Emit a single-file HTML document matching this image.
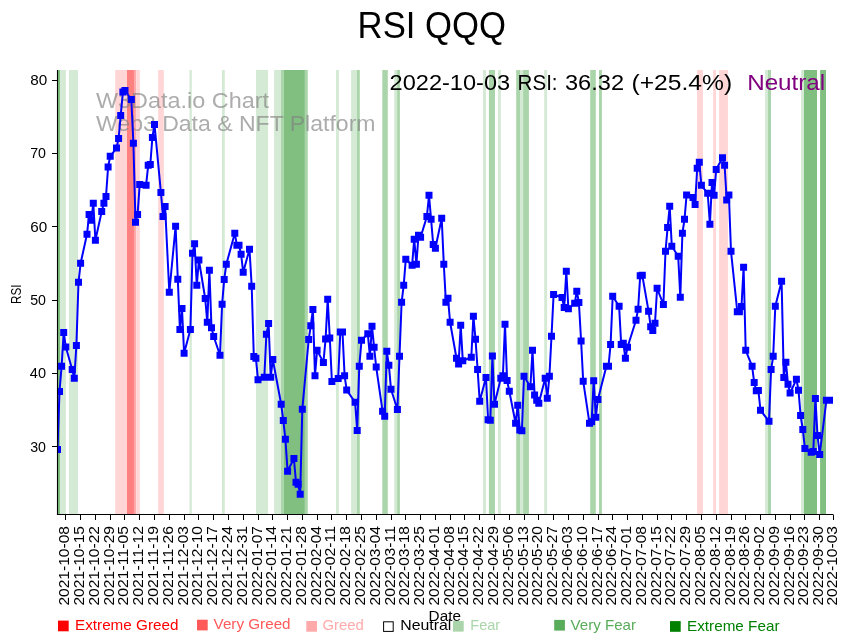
<!DOCTYPE html><html><head><meta charset="utf-8"><title>RSI QQQ</title><style>html,body{margin:0;padding:0;background:#fff}body{width:852px;height:642px;overflow:hidden;position:relative}svg{position:absolute;left:0;top:0;will-change:transform}text{font-family:"Liberation Sans",sans-serif}</style></head><body>
<svg width="852" height="642" viewBox="0 0 852 642">
<rect x="0" y="0" width="852" height="642" fill="#fff"/>
<defs><clipPath id="c"><rect x="57.5" y="69.9" width="775.5" height="444.6"/></clipPath></defs>
<g clip-path="url(#c)">
<rect x="57.5" y="69.9" width="2.5" height="444.6" fill="#80bf80"/>
<rect x="60.0" y="69.9" width="5.9" height="444.6" fill="#d5ead5"/>
<rect x="69.0" y="69.9" width="9.0" height="444.6" fill="#d5ead5"/>
<rect x="115.2" y="69.9" width="11.8" height="444.6" fill="#ffd5d5"/>
<rect x="127.0" y="69.9" width="7.0" height="444.6" fill="#ff8080"/>
<rect x="134.0" y="69.9" width="2.2" height="444.6" fill="#ffaaaa"/>
<rect x="136.2" y="69.9" width="3.6" height="444.6" fill="#ffd5d5"/>
<rect x="158.2" y="69.9" width="5.6" height="444.6" fill="#ffd5d5"/>
<rect x="189.5" y="69.9" width="2.3" height="444.6" fill="#d5ead5"/>
<rect x="222.0" y="69.9" width="2.8" height="444.6" fill="#d5ead5"/>
<rect x="256.0" y="69.9" width="12.0" height="444.6" fill="#d5ead5"/>
<rect x="274.1" y="69.9" width="6.9" height="444.6" fill="#d5ead5"/>
<rect x="281.0" y="69.9" width="2.9" height="444.6" fill="#aad5aa"/>
<rect x="283.9" y="69.9" width="21.0" height="444.6" fill="#80bf80"/>
<rect x="304.9" y="69.9" width="2.9" height="444.6" fill="#aad5aa"/>
<rect x="336.0" y="69.9" width="2.9" height="444.6" fill="#d5ead5"/>
<rect x="351.1" y="69.9" width="5.8" height="444.6" fill="#d5ead5"/>
<rect x="356.9" y="69.9" width="2.9" height="444.6" fill="#aad5aa"/>
<rect x="382.3" y="69.9" width="5.5" height="444.6" fill="#aad5aa"/>
<rect x="394.2" y="69.9" width="2.9" height="444.6" fill="#d5ead5"/>
<rect x="397.1" y="69.9" width="2.8" height="444.6" fill="#aad5aa"/>
<rect x="483.0" y="69.9" width="3.0" height="444.6" fill="#d5ead5"/>
<rect x="488.9" y="69.9" width="6.1" height="444.6" fill="#aad5aa"/>
<rect x="498.0" y="69.9" width="2.9" height="444.6" fill="#d5ead5"/>
<rect x="516.2" y="69.9" width="3.8" height="444.6" fill="#aad5aa"/>
<rect x="520.0" y="69.9" width="3.1" height="444.6" fill="#d5ead5"/>
<rect x="523.1" y="69.9" width="5.8" height="444.6" fill="#aad5aa"/>
<rect x="544.2" y="69.9" width="2.9" height="444.6" fill="#d5ead5"/>
<rect x="590.2" y="69.9" width="5.6" height="444.6" fill="#aad5aa"/>
<rect x="599.0" y="69.9" width="2.9" height="444.6" fill="#aad5aa"/>
<rect x="697.1" y="69.9" width="5.8" height="444.6" fill="#ffd5d5"/>
<rect x="713.2" y="69.9" width="2.7" height="444.6" fill="#ffd5d5"/>
<rect x="719.1" y="69.9" width="8.8" height="444.6" fill="#ffd5d5"/>
<rect x="765.1" y="69.9" width="2.9" height="444.6" fill="#d5ead5"/>
<rect x="768.0" y="69.9" width="3.0" height="444.6" fill="#aad5aa"/>
<rect x="801.1" y="69.9" width="2.9" height="444.6" fill="#d5ead5"/>
<rect x="804.0" y="69.9" width="13.0" height="444.6" fill="#80bf80"/>
<rect x="820.1" y="69.9" width="5.9" height="444.6" fill="#80bf80"/>
<g fill="#808080" fill-opacity="0.65" font-size="22.3px"><text x="96" y="107.6" textLength="173" lengthAdjust="spacingAndGlyphs">W3Data.io Chart</text><text x="96" y="130.5" textLength="279.5" lengthAdjust="spacingAndGlyphs">Web3 Data &amp; NFT Platform</text></g>
<polyline points="57.5,449.5 59.5,391.5 61.6,366.3 63.7,332.4 65.8,346.9 72.2,369.4 74.3,378.3 76.4,345.4 78.5,282.3 80.6,263.3 87.0,234.3 89.1,214.5 91.2,220.3 93.3,203.3 95.4,240.3 101.7,211.5 103.9,203.3 106.0,196.5 108.1,167.0 110.2,156.3 116.5,148.1 118.6,138.5 120.7,115.4 122.9,92.1 125.0,90.5 131.3,99.5 133.4,143.3 135.5,222.3 137.6,214.4 139.7,184.4 146.1,185.2 148.2,165.3 150.3,164.5 152.4,137.5 154.5,124.4 160.9,192.4 163.0,216.4 165.1,206.4 169.3,292.3 175.6,226.3 177.8,279.3 179.9,329.5 182.0,308.5 184.1,353.3 190.4,329.5 192.5,253.3 194.6,243.7 196.8,285.3 198.9,260.0 205.2,298.5 207.3,322.3 209.4,270.3 211.5,327.7 213.7,336.5 220.0,355.3 222.1,304.3 224.2,279.5 226.3,264.3 234.8,233.3 236.9,245.3 239.0,245.3 241.1,254.3 243.2,272.3 249.5,249.3 251.7,286.2 253.8,356.5 255.9,358.2 258.0,379.8 264.3,377.3 266.4,334.3 268.6,323.5 270.7,377.3 272.8,359.5 281.2,404.3 283.3,420.5 285.4,439.3 287.6,471.3 293.9,458.5 296.0,482.3 298.1,484.3 300.2,494.3 302.3,409.3 308.7,339.5 310.8,325.7 312.9,309.5 315.0,375.7 317.1,350.3 323.4,362.4 325.6,339.0 327.7,299.3 329.8,338.0 331.9,381.4 338.2,378.4 340.3,332.1 342.5,332.1 344.6,375.8 346.7,390.1 355.1,402.2 357.2,430.5 359.3,366.2 361.5,340.3 367.8,333.7 369.9,356.2 372.0,326.3 374.1,347.3 376.2,367.0 382.6,411.3 384.7,416.3 386.8,351.3 388.9,365.3 391.0,389.3 397.4,409.5 399.5,356.3 401.6,302.3 403.7,285.3 405.8,259.2 412.1,265.3 414.2,239.2 416.4,264.2 418.5,235.3 420.6,237.3 426.9,216.5 429.0,195.3 431.1,219.3 433.2,244.5 435.4,248.3 441.7,218.3 443.8,264.3 445.9,302.3 448.0,298.2 450.1,322.3 456.5,358.2 458.6,364.0 460.7,325.2 462.8,360.7 471.3,357.3 473.4,316.3 475.5,339.2 477.6,369.4 479.7,401.3 486.0,377.5 488.1,419.7 490.3,420.3 492.4,356.0 494.5,404.2 500.8,378.3 502.9,375.8 505.0,324.2 507.1,380.5 509.3,391.3 515.6,423.3 517.7,405.3 519.8,430.0 521.9,430.8 524.0,376.2 530.4,386.7 532.5,350.3 534.6,395.0 536.7,400.3 538.8,403.3 545.2,378.3 547.3,398.3 549.4,376.3 551.5,336.3 553.6,294.5 562.0,297.5 564.2,307.5 566.3,271.2 568.4,308.7 574.7,303.3 576.8,291.2 578.9,302.5 581.1,341.0 583.2,381.2 589.5,423.3 591.6,421.7 593.7,380.8 595.8,417.2 597.9,399.5 606.4,366.2 608.5,366.2 610.6,344.4 612.7,296.2 619.1,306.3 621.2,344.5 623.3,343.3 625.4,358.3 627.5,347.2 636.0,320.3 638.1,309.2 640.2,275.8 642.3,275.3 648.6,311.3 650.7,326.7 652.8,330.5 655.0,323.3 657.1,288.3 663.4,304.5 665.5,251.3 667.6,227.5 669.7,206.3 671.8,246.2 678.2,256.2 680.3,297.3 682.4,233.3 684.5,219.3 686.6,195.0 693.0,197.5 695.1,204.5 697.2,168.3 699.3,162.2 701.4,185.3 707.7,193.3 709.9,224.2 712.0,182.5 714.1,195.3 716.2,169.5 722.5,157.8 724.6,165.3 726.7,200.0 728.9,195.0 731.0,251.3 737.3,311.7 739.4,311.7 741.5,306.5 743.6,267.2 745.7,350.3 752.1,366.2 754.2,382.5 756.3,390.8 758.4,390.5 760.5,410.3 769.0,421.3 771.1,369.5 773.2,356.3 775.3,306.3 781.6,281.3 783.8,377.5 785.9,362.2 788.0,384.2 790.1,393.0 796.4,379.3 798.5,390.3 800.6,415.5 802.8,429.5 804.9,448.4 811.2,452.2 813.3,451.5 815.4,398.4 817.5,435.4 819.7,454.5 826.4,400.3 833.0,400.3" fill="none" stroke="#0000ff" stroke-width="2" stroke-linejoin="round" stroke-linecap="butt"/>
<path d="M54.0 446.0h7.0v7.0h-7.0zM56.0 388.0h7.0v7.0h-7.0zM58.1 362.8h7.0v7.0h-7.0zM60.2 328.9h7.0v7.0h-7.0zM62.3 343.4h7.0v7.0h-7.0zM68.7 365.9h7.0v7.0h-7.0zM70.8 374.8h7.0v7.0h-7.0zM72.9 341.9h7.0v7.0h-7.0zM75.0 278.8h7.0v7.0h-7.0zM77.1 259.8h7.0v7.0h-7.0zM83.5 230.8h7.0v7.0h-7.0zM85.6 211.0h7.0v7.0h-7.0zM87.7 216.8h7.0v7.0h-7.0zM89.8 199.8h7.0v7.0h-7.0zM91.9 236.8h7.0v7.0h-7.0zM98.2 208.0h7.0v7.0h-7.0zM100.4 199.8h7.0v7.0h-7.0zM102.5 193.0h7.0v7.0h-7.0zM104.6 163.5h7.0v7.0h-7.0zM106.7 152.8h7.0v7.0h-7.0zM113.0 144.6h7.0v7.0h-7.0zM115.1 135.0h7.0v7.0h-7.0zM117.2 111.9h7.0v7.0h-7.0zM119.4 88.6h7.0v7.0h-7.0zM121.5 87.0h7.0v7.0h-7.0zM127.8 96.0h7.0v7.0h-7.0zM129.9 139.8h7.0v7.0h-7.0zM132.0 218.8h7.0v7.0h-7.0zM134.1 210.9h7.0v7.0h-7.0zM136.2 180.9h7.0v7.0h-7.0zM142.6 181.7h7.0v7.0h-7.0zM144.7 161.8h7.0v7.0h-7.0zM146.8 161.0h7.0v7.0h-7.0zM148.9 134.0h7.0v7.0h-7.0zM151.0 120.9h7.0v7.0h-7.0zM157.4 188.9h7.0v7.0h-7.0zM159.5 212.9h7.0v7.0h-7.0zM161.6 202.9h7.0v7.0h-7.0zM165.8 288.8h7.0v7.0h-7.0zM172.1 222.8h7.0v7.0h-7.0zM174.3 275.8h7.0v7.0h-7.0zM176.4 326.0h7.0v7.0h-7.0zM178.5 305.0h7.0v7.0h-7.0zM180.6 349.8h7.0v7.0h-7.0zM186.9 326.0h7.0v7.0h-7.0zM189.0 249.8h7.0v7.0h-7.0zM191.1 240.2h7.0v7.0h-7.0zM193.3 281.8h7.0v7.0h-7.0zM195.4 256.5h7.0v7.0h-7.0zM201.7 295.0h7.0v7.0h-7.0zM203.8 318.8h7.0v7.0h-7.0zM205.9 266.8h7.0v7.0h-7.0zM208.0 324.2h7.0v7.0h-7.0zM210.2 333.0h7.0v7.0h-7.0zM216.5 351.8h7.0v7.0h-7.0zM218.6 300.8h7.0v7.0h-7.0zM220.7 276.0h7.0v7.0h-7.0zM222.8 260.8h7.0v7.0h-7.0zM231.3 229.8h7.0v7.0h-7.0zM233.4 241.8h7.0v7.0h-7.0zM235.5 241.8h7.0v7.0h-7.0zM237.6 250.8h7.0v7.0h-7.0zM239.7 268.8h7.0v7.0h-7.0zM246.0 245.8h7.0v7.0h-7.0zM248.2 282.7h7.0v7.0h-7.0zM250.3 353.0h7.0v7.0h-7.0zM252.4 354.7h7.0v7.0h-7.0zM254.5 376.3h7.0v7.0h-7.0zM260.8 373.8h7.0v7.0h-7.0zM262.9 330.8h7.0v7.0h-7.0zM265.1 320.0h7.0v7.0h-7.0zM267.2 373.8h7.0v7.0h-7.0zM269.3 356.0h7.0v7.0h-7.0zM277.7 400.8h7.0v7.0h-7.0zM279.8 417.0h7.0v7.0h-7.0zM281.9 435.8h7.0v7.0h-7.0zM284.1 467.8h7.0v7.0h-7.0zM290.4 455.0h7.0v7.0h-7.0zM292.5 478.8h7.0v7.0h-7.0zM294.6 480.8h7.0v7.0h-7.0zM296.7 490.8h7.0v7.0h-7.0zM298.8 405.8h7.0v7.0h-7.0zM305.2 336.0h7.0v7.0h-7.0zM307.3 322.2h7.0v7.0h-7.0zM309.4 306.0h7.0v7.0h-7.0zM311.5 372.2h7.0v7.0h-7.0zM313.6 346.8h7.0v7.0h-7.0zM319.9 358.9h7.0v7.0h-7.0zM322.1 335.5h7.0v7.0h-7.0zM324.2 295.8h7.0v7.0h-7.0zM326.3 334.5h7.0v7.0h-7.0zM328.4 377.9h7.0v7.0h-7.0zM334.7 374.9h7.0v7.0h-7.0zM336.8 328.6h7.0v7.0h-7.0zM339.0 328.6h7.0v7.0h-7.0zM341.1 372.3h7.0v7.0h-7.0zM343.2 386.6h7.0v7.0h-7.0zM351.6 398.7h7.0v7.0h-7.0zM353.7 427.0h7.0v7.0h-7.0zM355.8 362.7h7.0v7.0h-7.0zM358.0 336.8h7.0v7.0h-7.0zM364.3 330.2h7.0v7.0h-7.0zM366.4 352.7h7.0v7.0h-7.0zM368.5 322.8h7.0v7.0h-7.0zM370.6 343.8h7.0v7.0h-7.0zM372.7 363.5h7.0v7.0h-7.0zM379.1 407.8h7.0v7.0h-7.0zM381.2 412.8h7.0v7.0h-7.0zM383.3 347.8h7.0v7.0h-7.0zM385.4 361.8h7.0v7.0h-7.0zM387.5 385.8h7.0v7.0h-7.0zM393.9 406.0h7.0v7.0h-7.0zM396.0 352.8h7.0v7.0h-7.0zM398.1 298.8h7.0v7.0h-7.0zM400.2 281.8h7.0v7.0h-7.0zM402.3 255.7h7.0v7.0h-7.0zM408.6 261.8h7.0v7.0h-7.0zM410.7 235.7h7.0v7.0h-7.0zM412.9 260.7h7.0v7.0h-7.0zM415.0 231.8h7.0v7.0h-7.0zM417.1 233.8h7.0v7.0h-7.0zM423.4 213.0h7.0v7.0h-7.0zM425.5 191.8h7.0v7.0h-7.0zM427.6 215.8h7.0v7.0h-7.0zM429.7 241.0h7.0v7.0h-7.0zM431.9 244.8h7.0v7.0h-7.0zM438.2 214.8h7.0v7.0h-7.0zM440.3 260.8h7.0v7.0h-7.0zM442.4 298.8h7.0v7.0h-7.0zM444.5 294.7h7.0v7.0h-7.0zM446.6 318.8h7.0v7.0h-7.0zM453.0 354.7h7.0v7.0h-7.0zM455.1 360.5h7.0v7.0h-7.0zM457.2 321.7h7.0v7.0h-7.0zM459.3 357.2h7.0v7.0h-7.0zM467.8 353.8h7.0v7.0h-7.0zM469.9 312.8h7.0v7.0h-7.0zM472.0 335.7h7.0v7.0h-7.0zM474.1 365.9h7.0v7.0h-7.0zM476.2 397.8h7.0v7.0h-7.0zM482.5 374.0h7.0v7.0h-7.0zM484.6 416.2h7.0v7.0h-7.0zM486.8 416.8h7.0v7.0h-7.0zM488.9 352.5h7.0v7.0h-7.0zM491.0 400.7h7.0v7.0h-7.0zM497.3 374.8h7.0v7.0h-7.0zM499.4 372.3h7.0v7.0h-7.0zM501.5 320.7h7.0v7.0h-7.0zM503.6 377.0h7.0v7.0h-7.0zM505.8 387.8h7.0v7.0h-7.0zM512.1 419.8h7.0v7.0h-7.0zM514.2 401.8h7.0v7.0h-7.0zM516.3 426.5h7.0v7.0h-7.0zM518.4 427.3h7.0v7.0h-7.0zM520.5 372.7h7.0v7.0h-7.0zM526.9 383.2h7.0v7.0h-7.0zM529.0 346.8h7.0v7.0h-7.0zM531.1 391.5h7.0v7.0h-7.0zM533.2 396.8h7.0v7.0h-7.0zM535.3 399.8h7.0v7.0h-7.0zM541.7 374.8h7.0v7.0h-7.0zM543.8 394.8h7.0v7.0h-7.0zM545.9 372.8h7.0v7.0h-7.0zM548.0 332.8h7.0v7.0h-7.0zM550.1 291.0h7.0v7.0h-7.0zM558.5 294.0h7.0v7.0h-7.0zM560.7 304.0h7.0v7.0h-7.0zM562.8 267.7h7.0v7.0h-7.0zM564.9 305.2h7.0v7.0h-7.0zM571.2 299.8h7.0v7.0h-7.0zM573.3 287.7h7.0v7.0h-7.0zM575.4 299.0h7.0v7.0h-7.0zM577.6 337.5h7.0v7.0h-7.0zM579.7 377.7h7.0v7.0h-7.0zM586.0 419.8h7.0v7.0h-7.0zM588.1 418.2h7.0v7.0h-7.0zM590.2 377.3h7.0v7.0h-7.0zM592.3 413.7h7.0v7.0h-7.0zM594.4 396.0h7.0v7.0h-7.0zM602.9 362.7h7.0v7.0h-7.0zM605.0 362.7h7.0v7.0h-7.0zM607.1 340.9h7.0v7.0h-7.0zM609.2 292.7h7.0v7.0h-7.0zM615.6 302.8h7.0v7.0h-7.0zM617.7 341.0h7.0v7.0h-7.0zM619.8 339.8h7.0v7.0h-7.0zM621.9 354.8h7.0v7.0h-7.0zM624.0 343.7h7.0v7.0h-7.0zM632.5 316.8h7.0v7.0h-7.0zM634.6 305.7h7.0v7.0h-7.0zM636.7 272.3h7.0v7.0h-7.0zM638.8 271.8h7.0v7.0h-7.0zM645.1 307.8h7.0v7.0h-7.0zM647.2 323.2h7.0v7.0h-7.0zM649.3 327.0h7.0v7.0h-7.0zM651.5 319.8h7.0v7.0h-7.0zM653.6 284.8h7.0v7.0h-7.0zM659.9 301.0h7.0v7.0h-7.0zM662.0 247.8h7.0v7.0h-7.0zM664.1 224.0h7.0v7.0h-7.0zM666.2 202.8h7.0v7.0h-7.0zM668.3 242.7h7.0v7.0h-7.0zM674.7 252.7h7.0v7.0h-7.0zM676.8 293.8h7.0v7.0h-7.0zM678.9 229.8h7.0v7.0h-7.0zM681.0 215.8h7.0v7.0h-7.0zM683.1 191.5h7.0v7.0h-7.0zM689.5 194.0h7.0v7.0h-7.0zM691.6 201.0h7.0v7.0h-7.0zM693.7 164.8h7.0v7.0h-7.0zM695.8 158.7h7.0v7.0h-7.0zM697.9 181.8h7.0v7.0h-7.0zM704.2 189.8h7.0v7.0h-7.0zM706.4 220.7h7.0v7.0h-7.0zM708.5 179.0h7.0v7.0h-7.0zM710.6 191.8h7.0v7.0h-7.0zM712.7 166.0h7.0v7.0h-7.0zM719.0 154.3h7.0v7.0h-7.0zM721.1 161.8h7.0v7.0h-7.0zM723.2 196.5h7.0v7.0h-7.0zM725.4 191.5h7.0v7.0h-7.0zM727.5 247.8h7.0v7.0h-7.0zM733.8 308.2h7.0v7.0h-7.0zM735.9 308.2h7.0v7.0h-7.0zM738.0 303.0h7.0v7.0h-7.0zM740.1 263.7h7.0v7.0h-7.0zM742.2 346.8h7.0v7.0h-7.0zM748.6 362.7h7.0v7.0h-7.0zM750.7 379.0h7.0v7.0h-7.0zM752.8 387.3h7.0v7.0h-7.0zM754.9 387.0h7.0v7.0h-7.0zM757.0 406.8h7.0v7.0h-7.0zM765.5 417.8h7.0v7.0h-7.0zM767.6 366.0h7.0v7.0h-7.0zM769.7 352.8h7.0v7.0h-7.0zM771.8 302.8h7.0v7.0h-7.0zM778.1 277.8h7.0v7.0h-7.0zM780.3 374.0h7.0v7.0h-7.0zM782.4 358.7h7.0v7.0h-7.0zM784.5 380.7h7.0v7.0h-7.0zM786.6 389.5h7.0v7.0h-7.0zM792.9 375.8h7.0v7.0h-7.0zM795.0 386.8h7.0v7.0h-7.0zM797.1 412.0h7.0v7.0h-7.0zM799.3 426.0h7.0v7.0h-7.0zM801.4 444.9h7.0v7.0h-7.0zM807.7 448.7h7.0v7.0h-7.0zM809.8 448.0h7.0v7.0h-7.0zM811.9 394.9h7.0v7.0h-7.0zM814.0 431.9h7.0v7.0h-7.0zM816.2 451.0h7.0v7.0h-7.0zM822.9 396.8h7.0v7.0h-7.0zM829.5 396.8h7.0v7.0h-7.0z" fill="#0000ff"/>
</g>
<g stroke="#000" stroke-width="1.1" fill="none"><line x1="57.5" y1="69.9" x2="57.5" y2="515.05"/><line x1="56.95" y1="514.5" x2="833.5" y2="514.5"/></g>
<g stroke="#000" stroke-width="1" shape-rendering="crispEdges">
<line x1="65.5" y1="514.5" x2="65.5" y2="519.7"/>
<line x1="80.5" y1="514.5" x2="80.5" y2="519.7"/>
<line x1="95.5" y1="514.5" x2="95.5" y2="519.7"/>
<line x1="110.5" y1="514.5" x2="110.5" y2="519.7"/>
<line x1="124.5" y1="514.5" x2="124.5" y2="519.7"/>
<line x1="139.5" y1="514.5" x2="139.5" y2="519.7"/>
<line x1="154.5" y1="514.5" x2="154.5" y2="519.7"/>
<line x1="169.5" y1="514.5" x2="169.5" y2="519.7"/>
<line x1="184.5" y1="514.5" x2="184.5" y2="519.7"/>
<line x1="198.5" y1="514.5" x2="198.5" y2="519.7"/>
<line x1="213.5" y1="514.5" x2="213.5" y2="519.7"/>
<line x1="228.5" y1="514.5" x2="228.5" y2="519.7"/>
<line x1="243.5" y1="514.5" x2="243.5" y2="519.7"/>
<line x1="258.5" y1="514.5" x2="258.5" y2="519.7"/>
<line x1="272.5" y1="514.5" x2="272.5" y2="519.7"/>
<line x1="287.5" y1="514.5" x2="287.5" y2="519.7"/>
<line x1="302.5" y1="514.5" x2="302.5" y2="519.7"/>
<line x1="317.5" y1="514.5" x2="317.5" y2="519.7"/>
<line x1="331.5" y1="514.5" x2="331.5" y2="519.7"/>
<line x1="346.5" y1="514.5" x2="346.5" y2="519.7"/>
<line x1="361.5" y1="514.5" x2="361.5" y2="519.7"/>
<line x1="376.5" y1="514.5" x2="376.5" y2="519.7"/>
<line x1="391.5" y1="514.5" x2="391.5" y2="519.7"/>
<line x1="405.5" y1="514.5" x2="405.5" y2="519.7"/>
<line x1="420.5" y1="514.5" x2="420.5" y2="519.7"/>
<line x1="435.5" y1="514.5" x2="435.5" y2="519.7"/>
<line x1="450.5" y1="514.5" x2="450.5" y2="519.7"/>
<line x1="464.5" y1="514.5" x2="464.5" y2="519.7"/>
<line x1="479.5" y1="514.5" x2="479.5" y2="519.7"/>
<line x1="494.5" y1="514.5" x2="494.5" y2="519.7"/>
<line x1="509.5" y1="514.5" x2="509.5" y2="519.7"/>
<line x1="524.5" y1="514.5" x2="524.5" y2="519.7"/>
<line x1="538.5" y1="514.5" x2="538.5" y2="519.7"/>
<line x1="553.5" y1="514.5" x2="553.5" y2="519.7"/>
<line x1="568.5" y1="514.5" x2="568.5" y2="519.7"/>
<line x1="583.5" y1="514.5" x2="583.5" y2="519.7"/>
<line x1="598.5" y1="514.5" x2="598.5" y2="519.7"/>
<line x1="612.5" y1="514.5" x2="612.5" y2="519.7"/>
<line x1="627.5" y1="514.5" x2="627.5" y2="519.7"/>
<line x1="642.5" y1="514.5" x2="642.5" y2="519.7"/>
<line x1="657.5" y1="514.5" x2="657.5" y2="519.7"/>
<line x1="671.5" y1="514.5" x2="671.5" y2="519.7"/>
<line x1="686.5" y1="514.5" x2="686.5" y2="519.7"/>
<line x1="701.5" y1="514.5" x2="701.5" y2="519.7"/>
<line x1="716.5" y1="514.5" x2="716.5" y2="519.7"/>
<line x1="731.5" y1="514.5" x2="731.5" y2="519.7"/>
<line x1="745.5" y1="514.5" x2="745.5" y2="519.7"/>
<line x1="760.5" y1="514.5" x2="760.5" y2="519.7"/>
<line x1="775.5" y1="514.5" x2="775.5" y2="519.7"/>
<line x1="790.5" y1="514.5" x2="790.5" y2="519.7"/>
<line x1="804.5" y1="514.5" x2="804.5" y2="519.7"/>
<line x1="819.5" y1="514.5" x2="819.5" y2="519.7"/>
<line x1="833.5" y1="514.5" x2="833.5" y2="519.7"/>
<line x1="52.1" y1="446.5" x2="57.5" y2="446.5"/>
<line x1="52.1" y1="373.5" x2="57.5" y2="373.5"/>
<line x1="52.1" y1="300.5" x2="57.5" y2="300.5"/>
<line x1="52.1" y1="226.5" x2="57.5" y2="226.5"/>
<line x1="52.1" y1="153.5" x2="57.5" y2="153.5"/>
<line x1="52.1" y1="80.5" x2="57.5" y2="80.5"/>
</g>
<g font-size="14.1px" fill="#000">
<text x="30.2" y="451.7" textLength="15.8" lengthAdjust="spacingAndGlyphs">30</text>
<text x="29.8" y="377.7" textLength="16.2" lengthAdjust="spacingAndGlyphs">40</text>
<text x="30.2" y="304.7" textLength="15.8" lengthAdjust="spacingAndGlyphs">50</text>
<text x="30.2" y="231.7" textLength="17.0" lengthAdjust="spacingAndGlyphs">60</text>
<text x="30.2" y="157.7" textLength="15.8" lengthAdjust="spacingAndGlyphs">70</text>
<text x="30.2" y="84.7" textLength="17.0" lengthAdjust="spacingAndGlyphs">80</text>
</g>
<g font-size="14.6px" fill="#000">
<text transform="translate(68.8,605.6) rotate(-90)" textLength="79.6" lengthAdjust="spacingAndGlyphs">2021-10-08</text>
<text transform="translate(83.8,605.6) rotate(-90)" textLength="79.6" lengthAdjust="spacingAndGlyphs">2021-10-15</text>
<text transform="translate(98.8,605.6) rotate(-90)" textLength="79.6" lengthAdjust="spacingAndGlyphs">2021-10-22</text>
<text transform="translate(113.8,605.6) rotate(-90)" textLength="79.6" lengthAdjust="spacingAndGlyphs">2021-10-29</text>
<text transform="translate(127.8,605.6) rotate(-90)" textLength="79.6" lengthAdjust="spacingAndGlyphs">2021-11-05</text>
<text transform="translate(142.8,605.6) rotate(-90)" textLength="79.6" lengthAdjust="spacingAndGlyphs">2021-11-12</text>
<text transform="translate(157.8,605.6) rotate(-90)" textLength="79.6" lengthAdjust="spacingAndGlyphs">2021-11-19</text>
<text transform="translate(172.8,605.6) rotate(-90)" textLength="79.6" lengthAdjust="spacingAndGlyphs">2021-11-26</text>
<text transform="translate(187.8,605.6) rotate(-90)" textLength="79.6" lengthAdjust="spacingAndGlyphs">2021-12-03</text>
<text transform="translate(201.8,605.6) rotate(-90)" textLength="79.6" lengthAdjust="spacingAndGlyphs">2021-12-10</text>
<text transform="translate(216.8,605.6) rotate(-90)" textLength="79.6" lengthAdjust="spacingAndGlyphs">2021-12-17</text>
<text transform="translate(231.8,605.6) rotate(-90)" textLength="79.6" lengthAdjust="spacingAndGlyphs">2021-12-24</text>
<text transform="translate(246.8,605.6) rotate(-90)" textLength="79.6" lengthAdjust="spacingAndGlyphs">2021-12-31</text>
<text transform="translate(261.8,605.6) rotate(-90)" textLength="79.6" lengthAdjust="spacingAndGlyphs">2022-01-07</text>
<text transform="translate(275.8,605.6) rotate(-90)" textLength="79.6" lengthAdjust="spacingAndGlyphs">2022-01-14</text>
<text transform="translate(290.8,605.6) rotate(-90)" textLength="79.6" lengthAdjust="spacingAndGlyphs">2022-01-21</text>
<text transform="translate(305.8,605.6) rotate(-90)" textLength="79.6" lengthAdjust="spacingAndGlyphs">2022-01-28</text>
<text transform="translate(320.8,605.6) rotate(-90)" textLength="79.6" lengthAdjust="spacingAndGlyphs">2022-02-04</text>
<text transform="translate(334.8,605.6) rotate(-90)" textLength="79.6" lengthAdjust="spacingAndGlyphs">2022-02-11</text>
<text transform="translate(349.8,605.6) rotate(-90)" textLength="79.6" lengthAdjust="spacingAndGlyphs">2022-02-18</text>
<text transform="translate(364.8,605.6) rotate(-90)" textLength="79.6" lengthAdjust="spacingAndGlyphs">2022-02-25</text>
<text transform="translate(379.8,605.6) rotate(-90)" textLength="79.6" lengthAdjust="spacingAndGlyphs">2022-03-04</text>
<text transform="translate(394.8,605.6) rotate(-90)" textLength="79.6" lengthAdjust="spacingAndGlyphs">2022-03-11</text>
<text transform="translate(408.8,605.6) rotate(-90)" textLength="79.6" lengthAdjust="spacingAndGlyphs">2022-03-18</text>
<text transform="translate(423.8,605.6) rotate(-90)" textLength="79.6" lengthAdjust="spacingAndGlyphs">2022-03-25</text>
<text transform="translate(438.8,605.6) rotate(-90)" textLength="79.6" lengthAdjust="spacingAndGlyphs">2022-04-01</text>
<text transform="translate(453.8,605.6) rotate(-90)" textLength="79.6" lengthAdjust="spacingAndGlyphs">2022-04-08</text>
<text transform="translate(467.8,605.6) rotate(-90)" textLength="79.6" lengthAdjust="spacingAndGlyphs">2022-04-15</text>
<text transform="translate(482.8,605.6) rotate(-90)" textLength="79.6" lengthAdjust="spacingAndGlyphs">2022-04-22</text>
<text transform="translate(497.8,605.6) rotate(-90)" textLength="79.6" lengthAdjust="spacingAndGlyphs">2022-04-29</text>
<text transform="translate(512.8,605.6) rotate(-90)" textLength="79.6" lengthAdjust="spacingAndGlyphs">2022-05-06</text>
<text transform="translate(527.8,605.6) rotate(-90)" textLength="79.6" lengthAdjust="spacingAndGlyphs">2022-05-13</text>
<text transform="translate(541.8,605.6) rotate(-90)" textLength="79.6" lengthAdjust="spacingAndGlyphs">2022-05-20</text>
<text transform="translate(556.8,605.6) rotate(-90)" textLength="79.6" lengthAdjust="spacingAndGlyphs">2022-05-27</text>
<text transform="translate(571.8,605.6) rotate(-90)" textLength="79.6" lengthAdjust="spacingAndGlyphs">2022-06-03</text>
<text transform="translate(586.8,605.6) rotate(-90)" textLength="79.6" lengthAdjust="spacingAndGlyphs">2022-06-10</text>
<text transform="translate(601.8,605.6) rotate(-90)" textLength="79.6" lengthAdjust="spacingAndGlyphs">2022-06-17</text>
<text transform="translate(615.8,605.6) rotate(-90)" textLength="79.6" lengthAdjust="spacingAndGlyphs">2022-06-24</text>
<text transform="translate(630.8,605.6) rotate(-90)" textLength="79.6" lengthAdjust="spacingAndGlyphs">2022-07-01</text>
<text transform="translate(645.8,605.6) rotate(-90)" textLength="79.6" lengthAdjust="spacingAndGlyphs">2022-07-08</text>
<text transform="translate(660.8,605.6) rotate(-90)" textLength="79.6" lengthAdjust="spacingAndGlyphs">2022-07-15</text>
<text transform="translate(674.8,605.6) rotate(-90)" textLength="79.6" lengthAdjust="spacingAndGlyphs">2022-07-22</text>
<text transform="translate(689.8,605.6) rotate(-90)" textLength="79.6" lengthAdjust="spacingAndGlyphs">2022-07-29</text>
<text transform="translate(704.8,605.6) rotate(-90)" textLength="79.6" lengthAdjust="spacingAndGlyphs">2022-08-05</text>
<text transform="translate(719.8,605.6) rotate(-90)" textLength="79.6" lengthAdjust="spacingAndGlyphs">2022-08-12</text>
<text transform="translate(734.8,605.6) rotate(-90)" textLength="79.6" lengthAdjust="spacingAndGlyphs">2022-08-19</text>
<text transform="translate(748.8,605.6) rotate(-90)" textLength="79.6" lengthAdjust="spacingAndGlyphs">2022-08-26</text>
<text transform="translate(763.8,605.6) rotate(-90)" textLength="79.6" lengthAdjust="spacingAndGlyphs">2022-09-02</text>
<text transform="translate(778.8,605.6) rotate(-90)" textLength="79.6" lengthAdjust="spacingAndGlyphs">2022-09-09</text>
<text transform="translate(793.8,605.6) rotate(-90)" textLength="79.6" lengthAdjust="spacingAndGlyphs">2022-09-16</text>
<text transform="translate(807.8,605.6) rotate(-90)" textLength="79.6" lengthAdjust="spacingAndGlyphs">2022-09-23</text>
<text transform="translate(822.8,605.6) rotate(-90)" textLength="79.6" lengthAdjust="spacingAndGlyphs">2022-09-30</text>
<text transform="translate(836.8,605.6) rotate(-90)" textLength="79.6" lengthAdjust="spacingAndGlyphs">2022-10-03</text>
</g>
<text font-size="14.7px" transform="translate(20.9,304) rotate(-90)" textLength="19.5" lengthAdjust="spacingAndGlyphs">RSI</text>
<text font-size="14.7px" x="428.6" y="621.4" textLength="32.3" lengthAdjust="spacingAndGlyphs">Date</text>
<text font-size="36.6px" x="357.6" y="37.5" textLength="148.5" lengthAdjust="spacingAndGlyphs">RSI QQQ</text>
<g font-size="22.3px">
<text x="389.6" y="90.2" textLength="120.5" lengthAdjust="spacingAndGlyphs">2022-10-03</text>
<text x="517.6" y="90.2" textLength="40.0" lengthAdjust="spacingAndGlyphs">RSI:</text>
<text x="565.0" y="90.2" textLength="59.0" lengthAdjust="spacingAndGlyphs">36.32</text>
<text x="631.5" y="90.2" textLength="100.6" lengthAdjust="spacingAndGlyphs">(+25.4%)</text>
<text x="747.2" y="90.2" fill="#800080" textLength="78" lengthAdjust="spacingAndGlyphs">Neutral</text>
</g>
<rect x="58" y="620.6" width="10.7" height="10.7" fill="#ff0000"/>
<text font-size="15px" x="75" y="630.2" fill="#ff0000" textLength="103.5" lengthAdjust="spacingAndGlyphs">Extreme Greed</text>
<rect x="197" y="619.7" width="10.7" height="10.7" fill="#ff5959"/>
<text font-size="15px" x="213.6" y="629.4" fill="#ff5959" textLength="77" lengthAdjust="spacingAndGlyphs">Very Greed</text>
<rect x="306.3" y="621.0" width="10.7" height="10.7" fill="#ffaaaa"/>
<text font-size="15px" x="322.4" y="630.3" fill="#ffaaaa" textLength="41.5" lengthAdjust="spacingAndGlyphs">Greed</text>
<rect x="383.6" y="621.8" width="9.6" height="9.6" fill="#fff" stroke="#000" stroke-width="1"/>
<text font-size="15px" x="400.2" y="630.3" fill="#000000" textLength="51.2" lengthAdjust="spacingAndGlyphs">Neutral</text>
<rect x="453" y="620.9" width="10.7" height="10.7" fill="#aad5aa"/>
<text font-size="15px" x="470.3" y="630.3" fill="#aad5aa" textLength="29.8" lengthAdjust="spacingAndGlyphs">Fear</text>
<rect x="554.2" y="619.9" width="10.7" height="10.7" fill="#59ac59"/>
<text font-size="15px" x="570.5" y="629.5" fill="#59ac59" textLength="65.5" lengthAdjust="spacingAndGlyphs">Very Fear</text>
<rect x="670" y="621.1" width="10.7" height="10.7" fill="#008000"/>
<text font-size="15px" x="687" y="630.6" fill="#008000" textLength="92.5" lengthAdjust="spacingAndGlyphs">Extreme Fear</text>
</svg></body></html>
